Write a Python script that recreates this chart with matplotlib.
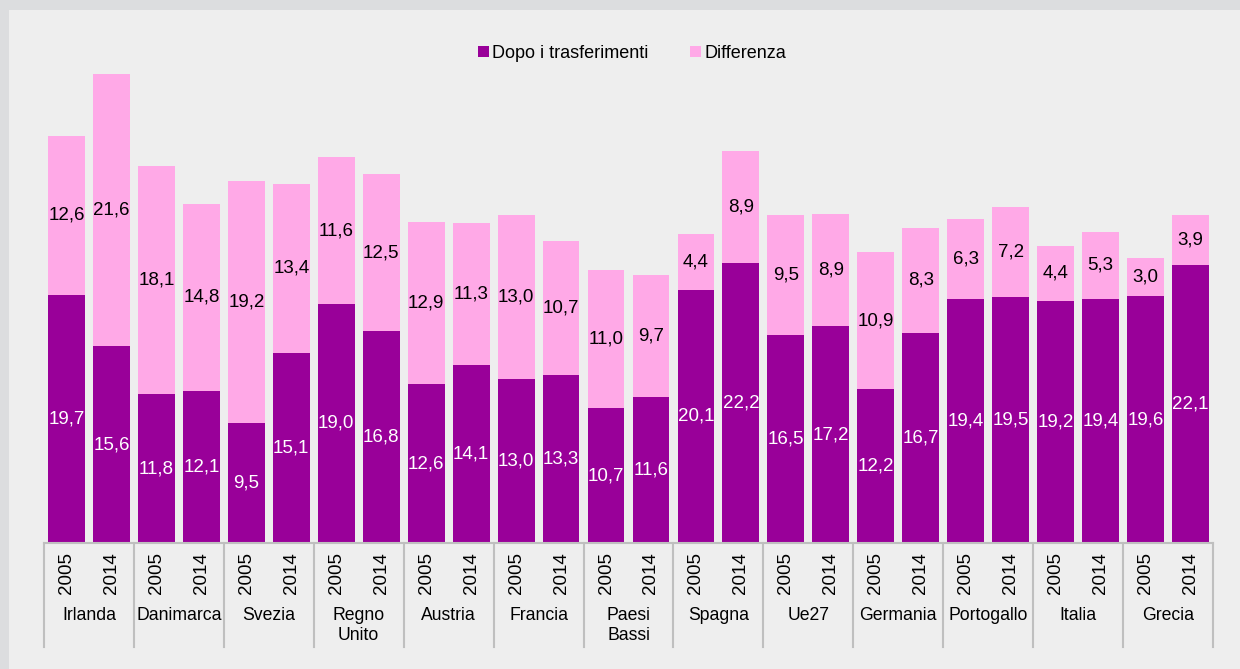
import matplotlib
matplotlib.use("Agg")
import matplotlib.pyplot as plt
import matplotlib.transforms as mtransforms
from matplotlib.patches import Patch, Rectangle

countries = ["Irlanda", "Danimarca", "Svezia", "Regno\nUnito", "Austria", "Francia",
             "Paesi\nBassi", "Spagna", "Ue27", "Germania", "Portogallo", "Italia", "Grecia"]
years = ["2005", "2014"]
dopo = [19.7, 15.6, 11.8, 12.1, 9.5, 15.1, 19.0, 16.8, 12.6, 14.1, 13.0, 13.3,
        10.7, 11.6, 20.1, 22.2, 16.5, 17.2, 12.2, 16.7, 19.4, 19.5, 19.2, 19.4, 19.6, 22.1]
differenza = [12.6, 21.6, 18.1, 14.8, 19.2, 13.4, 11.6, 12.5, 12.9, 11.3, 13.0, 10.7,
              11.0, 9.7, 4.4, 8.9, 9.5, 8.9, 10.9, 8.3, 6.3, 7.2, 4.4, 5.3, 3.0, 3.9]

C_DOPO = "#990099"
C_DIFF = "#FFA9E7"
FONT = "Liberation Sans"

W, H = 1240, 669
fig = plt.figure(figsize=(W / 100, H / 100), dpi=100)
fig.patch.set_facecolor("#DCDDDF")
fig.patches.append(Rectangle((9 / W, 0), 1, 1 - 10 / H, transform=fig.transFigure,
                             facecolor="#EEEEEE", edgecolor="none", zorder=-10))

ax_left, ax_right = 44, 1213
ax_bottom, ax_top = 543, 30
ax = fig.add_axes([ax_left / W, (H - ax_bottom) / H, (ax_right - ax_left) / W,
                   (ax_bottom - ax_top) / H])
ax.set_facecolor("none")
n = len(dopo)
ax.set_xlim(0, n)
ax.set_ylim(0, (ax_bottom - ax_top) / 12.6)
for s in ["top", "right", "left"]:
    ax.spines[s].set_visible(False)
ax.spines["bottom"].set_color("#BFBFBF")
ax.spines["bottom"].set_linewidth(1.5)
ax.set_xticks([])
ax.set_yticks([])

xs = [i + 0.5 for i in range(n)]
bw = 0.82
ax.bar(xs, dopo, width=bw, color=C_DOPO, zorder=2)
ax.bar(xs, differenza, width=bw, bottom=dopo, color=C_DIFF, zorder=2)

fs = 13.5
for x, d, f in zip(xs, dopo, differenza):
    ax.text(x, d / 2, f"{d:.1f}".replace(".", ","), ha="center", va="center",
            color="white", fontsize=fs, family=FONT, zorder=3)
    ax.text(x, d + f / 2, f"{f:.1f}".replace(".", ","), ha="center", va="center",
            color="black", fontsize=fs, family=FONT, zorder=3)

trans = mtransforms.blended_transform_factory(ax.transData, fig.transFigure)
def fy(py):
    return (H - py) / H

for i, x in enumerate(xs):
    ax.text(x, fy(573), years[i % 2], rotation=90, ha="center", va="center",
            fontsize=13.5, family=FONT, transform=trans)
for k, c in enumerate(countries):
    ax.text(2 * k + 1, fy(607), c, ha="center", va="top", fontsize=12.7, family=FONT,
            transform=trans, linespacing=1.25)
for k in range(len(countries) + 1):
    ax.plot([2 * k, 2 * k], [fy(543), fy(647)], color="#BFBFBF", lw=1.5,
            transform=trans, clip_on=False)

handles = [Patch(facecolor=C_DOPO, label="Dopo i trasferimenti"),
           Patch(facecolor=C_DIFF, label="Differenza")]
fig.legend(handles=handles, loc="center", bbox_to_anchor=(632 / W, fy(53)), ncol=2,
           frameon=False, prop={"family": FONT, "size": 13}, handlelength=0.58,
           handleheight=0.58, handletextpad=0.2, columnspacing=2.3)

fig.savefig("out.png", dpi=100, facecolor=fig.get_facecolor())
